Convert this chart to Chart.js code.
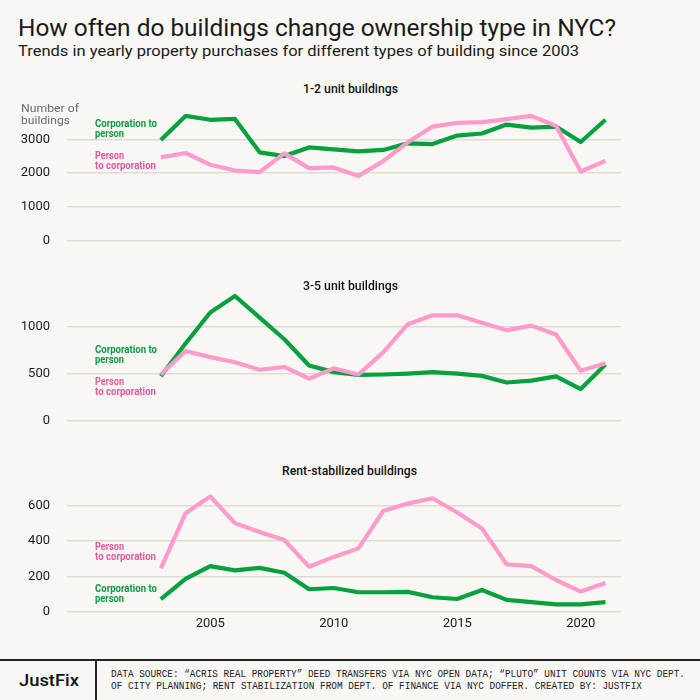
<!DOCTYPE html>
<html><head><meta charset="utf-8">
<script src="https://cdn.jsdelivr.net/npm/chart.js@4"></script>
<style>
html,body{margin:0;padding:0;background:#f8f7f3;}
#wrap{position:relative;width:700px;height:700px;overflow:hidden;background:#f8f7f3;}
canvas{position:absolute;left:0;}
.t{position:absolute;white-space:nowrap;transform-origin:0 50%;}
.hl{position:absolute;background:#222;}
</style></head><body><div id="wrap">
<div class="hl" style="left:0;top:659px;width:700px;height:2px;"></div>
<div class="hl" style="left:95px;top:660px;width:1.5px;height:40px;"></div>
<canvas id="c1" width="640" height="141" style="top:105px"></canvas>
<canvas id="c2" width="640" height="141" style="top:285px"></canvas>
<canvas id="c3" width="640" height="158" style="top:484px"></canvas>
</div>
<script>
// ---- data ----
const years = [2003,2004,2005,2006,2007,2008,2009,2010,2011,2012,2013,2014,2015,2016,2017,2018,2019,2020,2021];
const xTickYears = [2005,2010,2015,2020];

const corpToPerson12 = [2980,3690,3575,3600,2615,2505,2760,2700,2645,2685,2880,2860,3110,3170,3435,3345,3375,2920,3575];
const personToCorp12 = [2465,2595,2250,2080,2030,2585,2150,2170,1920,2355,2910,3375,3485,3505,3595,3690,3395,2050,2365];
const yTicks12 = [0,1000,2000,3000];

const corpToPerson35 = [475,825,1155,1330,1100,870,590,520,490,495,505,520,505,480,410,430,475,340,600];
const personToCorp35 = [495,745,680,625,545,575,450,560,495,730,1030,1125,1125,1045,965,1015,920,535,615];
const yTicks35 = [0,500,1000];

const corpToPersonRS = [73,186,258,234,248,221,128,135,111,111,113,83,73,124,68,56,43,43,56];
const personToCorpRS = [245,555,650,500,450,405,255,310,358,568,610,640,560,470,268,258,180,115,163];
const yTicksRS = [0,200,400,600];

const GREEN = '#06a03f';
const PINK = '#ff9bcb';
const GREEN_TXT = '#0b9a41';
const PINK_TXT = '#e4579c';

function pts(vals){ return years.map((y,i)=>({x:y,y:vals[i]})); }

function makeChart(id, green, pink, yTicks, yMax, showX){
  new Chart(document.getElementById(id), {
    type:'line',
    data:{datasets:[
      {data:pts(pink), borderColor:PINK, borderWidth:4.2, pointRadius:0, tension:0, clip:false, borderJoinStyle:'round'},
      {data:pts(green), borderColor:GREEN, borderWidth:4.2, pointRadius:0, tension:0, clip:false, borderJoinStyle:'round'}
    ]},
    options:{
      responsive:false, animation:false, devicePixelRatio:1,
      layout:{autoPadding:false, padding:{top:5,bottom:showX?0:5,left:0,right:19}},
      plugins:{legend:{display:false},tooltip:{enabled:false}},
      scales:{
        x:{type:'linear', min:1999.2, max:2021.63, display:showX,
           afterBuildTicks:s=>{s.ticks = xTickYears.map(v=>({value:v}));},
           afterFit:s=>{ if(showX) s.height=30; s.paddingLeft=0; s.paddingRight=0; },
           grid:{display:false, drawTicks:false}, border:{display:false},
           ticks:{padding:4, color:'#1c1c1c', font:{family:'Roboto', size:13}, callback:v=>String(v), maxRotation:0, autoSkip:false}},
        y:{min:0, max:yMax,
           afterBuildTicks:s=>{s.ticks = yTicks.map(v=>({value:v}));},
           afterFit:s=>{s.width=67; s.paddingTop=0; s.paddingBottom=0;},
           grid:{color:'#dcdbd5', lineWidth:1.5, drawTicks:false}, border:{display:false},
           ticks:{padding:17, color:'#1c1c1c', font:{family:'Roboto', size:13}, callback:v=>String(v)}}
      }
    }
  });
}
makeChart('c1', corpToPerson12, personToCorp12, yTicks12, 3864, false);
makeChart('c2', corpToPerson35, personToCorp35, yTicks35, 1394, false);
makeChart('c3', corpToPersonRS, personToCorpRS, yTicksRS, 692, true);

// ---- text ----
const wrap = document.getElementById('wrap');
function addText(str, x, cy, fs, css, targetW, align){
  const el = document.createElement('div');
  el.className='t';
  el.textContent=str;
  el.style.cssText += `font-size:${fs}px;line-height:${fs}px;top:${cy-fs*0.5}px;` + css;
  wrap.appendChild(el);
  const w = el.getBoundingClientRect().width;
  const sx = targetW ? targetW/w : 1;
  el.style.transform = `scaleX(${sx})`;
  const left = align==='center' ? x - targetW/2 : x;
  el.style.left = left + 'px';
  return el;
}
const R = "font-family:Roboto;";
addText('How often do buildings change ownership type in NYC?', 18, 28, 23, R+'color:#1a1a1a;font-weight:400;', 598);
addText('Trends in yearly property purchases for different types of building since 2003', 18, 52, 14.5, R+'color:#1a1a1a;font-weight:400;', 561);

addText('1-2 unit buildings', 350.5, 89, 12, R+'color:#111;font-weight:500;', 95, 'center');
addText('3-5 unit buildings', 350.5, 286, 12, R+'color:#111;font-weight:500;', 95, 'center');
addText('Rent-stabilized buildings', 349.5, 471, 12, R+'color:#111;font-weight:500;', 135, 'center');

addText('Number of', 21, 109, 11.5, R+'color:#6a6a6a;', 58);
addText('buildings', 21, 121, 11.5, R+'color:#6a6a6a;', 49);

const B = R+'font-weight:700;';
function cp(y){ addText('Corporation to', 95, y, 10, B+'color:'+GREEN_TXT+';', 62); addText('person', 95, y+10, 10, B+'color:'+GREEN_TXT+';', 29); }
function pc(y){ addText('Person', 95, y, 10, B+'color:'+PINK_TXT+';', 29); addText('to corporation', 95, y+10, 10, B+'color:'+PINK_TXT+';', 61); }
cp(124); pc(156);
cp(350); pc(382);
pc(547); cp(589);

addText('JustFix', 18.5, 681, 16, R+'color:#111;font-weight:500;', 60);
const M = "font-family:'Liberation Mono';color:#222;";
addText('DATA SOURCE: \u201CACRIS REAL PROPERTY\u201D DEED TRANSFERS VIA NYC OPEN DATA; \u201CPLUTO\u201D UNIT COUNTS VIA NYC DEPT.', 110.5, 675, 10, M, 574);
addText('OF CITY PLANNING; RENT STABILIZATION FROM DEPT. OF FINANCE VIA NYC DOFFER. CREATED BY: JUSTFIX', 110.5, 687, 10, M, 531);
</script>
</body></html>
